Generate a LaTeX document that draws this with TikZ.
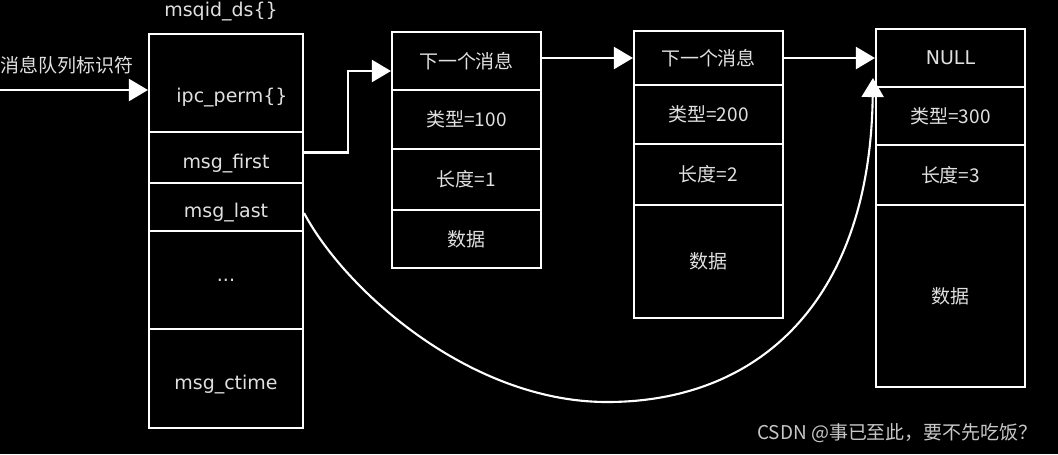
\documentclass[tikz,border=0pt]{standalone}
\usepackage{fontspec}
\setmainfont{DejaVu Sans}
\newfontfamily\cjk{Noto Sans CJK SC}
\usetikzlibrary{arrows.meta}

\tikzset{
  cell/.style={draw=white, line width=1.2pt, minimum width=2.98cm, text=white!88!black, font=\fontsize{10.8}{13}\selectfont},
  lowtext/.style={text height=1.5em},
  plain/.style={text=white!88!black, font=\fontsize{10.8}{13}\selectfont},
  arr/.style={draw=white, line width=1.2pt, -{Triangle[length=0.38cm,width=0.44cm]}},
}

\begin{document}
\begin{tikzpicture}
\useasboundingbox (0,0) rectangle (21.16,-9.08);
\fill[black] (0,0) rectangle (21.16,-9.08);

% msqid_ds{}
\node[plain] (title) at (4.42,-0.24) {msqid\_ds\{\}};
\node[cell, minimum width=3.08cm, minimum height=1.96cm] (perm) at (4.52,-1.66) {};
\node[plain] (permtext) at (4.64,-1.96) {ipc\_perm\{\}};
\node[cell, lowtext, minimum width=3.08cm, minimum height=1.02cm] (first) at (4.52,-3.15) {msg\_first};
\node[cell, lowtext, minimum width=3.08cm, minimum height=0.96cm] (last) at (4.52,-4.14) {msg\_last};
\node[cell, minimum width=3.08cm, minimum height=1.96cm] (dots) at (4.52,-5.6) {...};
\node[cell, lowtext, minimum width=3.08cm, minimum height=1.98cm] (ctime) at (4.52,-7.57) {msg\_ctime};

% message 1
\node[cell, minimum height=1.16cm] (bnext) at (9.33,-1.22) {\cjk 下一个消息};
\node[cell, minimum height=1.18cm] (btype) at (9.33,-2.39) {\cjk 类型=100};
\node[cell, minimum height=1.22cm] (blen) at (9.33,-3.59) {\cjk 长度=1};
\node[cell, minimum height=1.16cm] (bdata) at (9.33,-4.78) {\cjk 数据};

% message 2
\node[cell, minimum height=1.08cm] (cnext) at (14.17,-1.16) {\cjk 下一个消息};
\node[cell, minimum height=1.18cm] (ctype) at (14.17,-2.29) {\cjk 类型=200};
\node[cell, minimum height=1.22cm] (clen) at (14.17,-3.49) {\cjk 长度=2};
\node[cell, minimum height=2.26cm] (cdata) at (14.17,-5.23) {\cjk 数据};

% message 3
\node[cell, minimum height=1.16cm] (dnext) at (19.01,-1.16) {NULL};
\node[cell, minimum height=1.16cm] (dtype) at (19.01,-2.32) {\cjk 类型=300};
\node[cell, minimum height=1.2cm] (dlen) at (19.01,-3.5) {\cjk 长度=3};
\node[cell, minimum height=3.64cm] (ddata) at (19.01,-5.92) {\cjk 数据};

% queue id
\coordinate (idstart) at (-0.1,-1.8);
\node[plain, anchor=west] (idtext) at (-0.12,-1.3) {\cjk 消息队列标识符};
\draw[arr] (idstart) -- (perm.west |- idstart);

% links
\draw[arr] ([yshift=0.1cm]first.east) -- ++(0.88,0) |- ([yshift=-0.2cm]bnext.west);
\draw[arr] (bnext.east |- cnext.west) -- (cnext.west);
\draw[arr] (cnext.east) -- (dnext.west);
\draw[arr] ([yshift=-0.12cm]last.east) .. controls (6.9,-5.8) and (9.4,-8.04) .. (12.14,-8.04)
  .. controls (15.2,-8.04) and (17.4,-6.0) .. ([xshift=-0.04cm,yshift=0.2cm]dnext.south west);

\node[text=white!78!black, font=\cjk\fontsize{10.8}{13}\selectfont, anchor=east] (mark) at (20.88,-8.66) {CSDN @事已至此，要不先吃饭？};
\end{tikzpicture}
\end{document}
